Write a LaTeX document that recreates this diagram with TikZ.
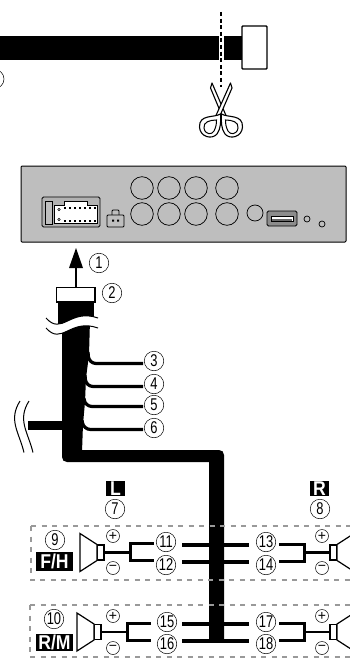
\documentclass[tikz,border=0pt]{standalone}
\usepackage{fontspec}
\setmainfont{Liberation Sans}
\newfontfamily\narrowfont[FakeStretch=0.76]{Liberation Sans}
\newfontfamily\badgefont[FakeStretch=0.88]{Liberation Sans Bold}
\definecolor{panel}{HTML}{BEBEBE}
\definecolor{dashgray}{HTML}{999999}
\tikzset{
  num/.style={circle,draw,line width=.5pt,minimum size=19.5pt,inner sep=0pt,font=\narrowfont\fontsize{17}{17}\selectfont},
  sign/.style={circle,draw,line width=.5pt,minimum size=13pt,inner sep=0pt,font=\fontsize{14}{14}\selectfont},
  badge/.style={fill=black,text=white,inner sep=0pt,font=\badgefont\fontsize{20}{20}\selectfont},
  wire/.style={line width=3.2pt},
  stemwire/.style={line width=2.4pt},
  forkwire/.style={line width=3pt,line join=miter},
  spk/.style={fill=white,draw,line width=1.2pt,line join=miter},
  grp/.style={dashgray,line width=1.5pt,dash pattern=on 5pt off 5.5pt},
  knob/.style={draw,line width=.7pt},
  scis/.style={draw,line width=1.1pt,line join=round,fill=white}
}
\begin{document}
\begin{tikzpicture}[x=1pt,y=-1pt]
\useasboundingbox (0,0) rectangle (350,658);
% ---- cut cable
\fill (0,36) rectangle (219,60);
\fill (223.5,36) rectangle (243,60);
\draw[line width=1.4pt,fill=white,rounded corners=.8pt] (242,26) rectangle (267,69);
\draw[line width=1.1pt,dash pattern=on 4pt off 2.6pt] (221,12) -- (221,87);
\begin{scope}
\clip (0,60) rectangle (10,100);
\draw[line width=.5pt] (-5.5,79) circle (9.5);
\end{scope}
% ---- scissors
\draw[scis] (212,83) -- (210.5,88) -- (223,118) -- (226,115.5) -- cycle;
\draw[scis] (230.5,83) -- (232,88) -- (219,118) -- (216,115.5) -- cycle;
\draw[scis] (220.5,114) .. controls (214,118) and (199,114) .. (199.5,127) .. controls (200,137) and (212,140) .. (217,134) .. controls (221,129) and (221,120) .. (220.5,114) -- cycle;
\draw[scis] (221.5,114) .. controls (228,118) and (243,114) .. (242.5,127) .. controls (242,137) and (230,140) .. (225,134) .. controls (221,129) and (221,120) .. (221.5,114) -- cycle;
\draw[line width=1pt] (216.5,120) .. controls (210,120) and (203,122) .. (204,128) .. controls (205,135) and (212,135) .. (214,131) .. controls (216,127) and (216.5,124) .. cycle;
\draw[line width=1pt] (225.5,120) .. controls (232,120) and (239,122) .. (238,128) .. controls (237,135) and (230,135) .. (228,131) .. controls (226,127) and (225.5,124) .. cycle;
% ---- head unit
\draw[line width=1pt,fill=panel,rounded corners=1pt] (21,166) rectangle (346,242);
\foreach \px in {142,169,196,227}{
  \draw[knob] (\px,188) circle (11.3);
  \draw[knob] (\px,214) circle (11.3);
}
\draw[knob] (255,213) circle (8);
\draw[line width=.9pt,fill=black!45,rounded corners=1.5pt] (267,211) rectangle (297,226);
\draw[line width=.7pt,fill=white] (271,216) rectangle (293,221);
\fill[black!60] (272,219) rectangle (292,221);
\draw[knob] (307,219) circle (3);
\draw[knob] (322,224) circle (3);
\draw[line width=.8pt,fill=black!30,rounded corners=1.5pt] (42,197) rectangle (100,227);
\draw[line width=.6pt,fill=panel] (45.5,201) rectangle (52,224);
\draw[line width=.6pt,fill=white] (54,205) -- (64,205) -- (64,201) -- (87,201) -- (87,205) -- (97,205) -- (97,223) -- (54,223) -- cycle;
\draw[line width=.5pt] (59,209.5) circle (1.3) (59,219.5) circle (1.3);
\foreach \px in {64,69,...,94}{
  \fill (\px,207) rectangle +(1.8,2.2);
  \fill (\px,220) rectangle +(1.8,2.2);
}
\draw[line width=.8pt,fill=panel,rounded corners=1pt] (112,215) -- (112,210) -- (119,210) -- (119,215);
\draw[line width=.9pt,fill=panel,rounded corners=1pt] (107,215) rectangle (124,227);
\fill (112,219.5) rectangle +(2,2) (117,219.5) rectangle +(2,2);
% ---- arrow and plug
\coordinate (arrowtail) at (76,287);
\coordinate (arrowhead) at (76,248);
\fill (arrowhead) -- (83,268) -- (69,268) -- cycle;
\draw[line width=1.4pt] (arrowtail) -- (76,265);
\node[num] (n1) at (99,263) {1};
\draw[line width=1.2pt,fill=white] (56.5,287.5) rectangle (95,302);
\node[num] (n2) at (112,293) {2};
% ---- main cable
\begin{scope}
\clip (46,318) .. controls (62,336) and (70,308) .. (98,318) -- (98,295) -- (46,295) -- cycle;
\fill (58,302.5) rectangle (93.5,330);
\end{scope}
\begin{scope}
\clip (46,328) .. controls (62,346) and (70,318) .. (98,328) -- (98,470) -- (46,470) -- cycle;
\fill (62,320) -- (90,320) -- (89,355) -- (86,378) -- (85,402) -- (83,424) -- (82,452) -- (62,452) -- cycle;
\end{scope}
\fill (62,440) -- (62,457) .. controls (62,460) and (64,462) .. (67,462) -- (209,462) -- (209,640) -- (224,640) -- (224,455) .. controls (224,452) and (222,450) .. (219,450) -- (70,450) -- (70,440) -- cycle;
\draw[line width=1pt] (46,318) .. controls (62,336) and (70,308) .. (98,318);
\draw[line width=1pt] (46,328) .. controls (62,346) and (70,318) .. (98,328);
% branch
\fill (28,421) rectangle (63,430);
\draw[line width=1pt] (20,401) .. controls (8,420) and (19,432) .. (24,452.5);
\draw[line width=1pt] (29,401) .. controls (17,420) and (28,432) .. (33,452.5) ;
% wires
\node[num] (n3) at (154,361) {3};
\node[num] (n4) at (154,384) {4};
\node[num] (n5) at (154,405) {5};
\node[num] (n6) at (154,428) {6};
\coordinate (w3) at (88,352);
\coordinate (w4) at (85,375);
\coordinate (w5) at (84,398);
\coordinate (w6) at (82,420);
\draw[wire,rounded corners=7pt] (w3) -- (89,363.5) -- (143,363.5);
\draw[wire,rounded corners=7pt] (w4) -- (86,386.5) -- (143,386.5);
\draw[wire,rounded corners=7pt] (w5) -- (85,406.5) -- (143,406.5);
\draw[wire,rounded corners=7pt] (w6) -- (83.5,429.5) -- (143,429.5);
% ---- L/R labels
\node[badge,minimum width=19pt,minimum height=15.5pt] (bl) at (115.5,488.5) {L};
\node[badge,minimum width=19pt,minimum height=15.5pt] (br) at (319.5,488.5) {R};
\node[num] (n7) at (115,509) {7};
\node[num] (n8) at (320,509) {8};
% ---- dashed groups
\draw[grp] (31,526) -- (350,526);
\draw[grp] (31,526) -- (31,580) -- (350,580);
\draw[grp,line width=2.2pt] (30,605) -- (350,605);
\draw[grp,line width=2.2pt] (30,605) -- (30,657);
\draw[grp,line width=1.2pt] (30,657) -- (350,657);
% ---- speaker rows: upper
\draw[wire] (182,545) -- (249,545);
\draw[wire] (182,562) -- (249,562);
\draw[forkwire] (154,543.5) -- (130,543.5) -- (130,560.5) -- (154,560.5);
\draw[stemwire] (104,552.5) -- (130,552.5);
\draw[spk] (104,545) rectangle (97,560);
\draw[spk] (97,544.5) -- (80,533.5) -- (80,571.5) -- (97,560.5) -- cycle;
\draw[forkwire] (279,544) -- (304,544) -- (304,561) -- (279,561);
\draw[stemwire] (304,552.5) -- (330,552.5);
\draw[spk] (330,545) rectangle (337,560);
\draw[spk] (337,544.5) -- (354,533.5) -- (354,571.5) -- (337,560.5) -- cycle;
% ---- speaker rows: lower
\draw[wire] (182,624) -- (249,624);
\draw[wire] (182,641) -- (249,641);
\draw[forkwire] (151,623) -- (127,623) -- (127,640) -- (151,640);
\draw[stemwire] (101,632) -- (127,632);
\draw[spk] (101,624.5) rectangle (94,639.5);
\draw[spk] (94,624) -- (77,613) -- (77,651) -- (94,640) -- cycle;
\draw[forkwire] (279,623) -- (304,623) -- (304,640) -- (279,640);
\draw[stemwire] (304,632) -- (330,632);
\draw[spk] (330,624.5) rectangle (337,639.5);
\draw[spk] (337,624) -- (354,613) -- (354,651) -- (337,640) -- cycle;
\node[sign] (p1) at (113,536) {+};
\node[sign] (m1) at (113,568) {\raisebox{.6pt}{−}};
\node[sign] (p2) at (113,616) {+};
\node[sign] (m2) at (113,648) {\raisebox{.6pt}{−}};
\node[sign] (p3) at (322,536) {+};
\node[sign] (m3) at (322,568) {\raisebox{.6pt}{−}};
\node[sign] (p4) at (322,616) {+};
\node[sign] (m4) at (322,648) {\raisebox{.6pt}{−}};
\node[num] (n9) at (55,540) {9};
\node[num] (n10) at (54,619) {10};
\node[num] (n11) at (166,542) {11};
\node[num] (n12) at (166,565) {12};
\node[num] (n13) at (266,542) {13};
\node[num] (n14) at (266,565) {14};
\node[num] (n15) at (167,622) {15};
\node[num] (n16) at (167,644) {16};
\node[num] (n17) at (266,622) {17};
\node[num] (n18) at (266,644) {18};
\node[badge,minimum width=37pt,minimum height=19pt] (fh) at (54.5,561.5) {F/H};
\node[badge,minimum width=37pt,minimum height=17.5pt] (rm) at (54.5,642.5) {R/M};
\end{tikzpicture}
\end{document}
